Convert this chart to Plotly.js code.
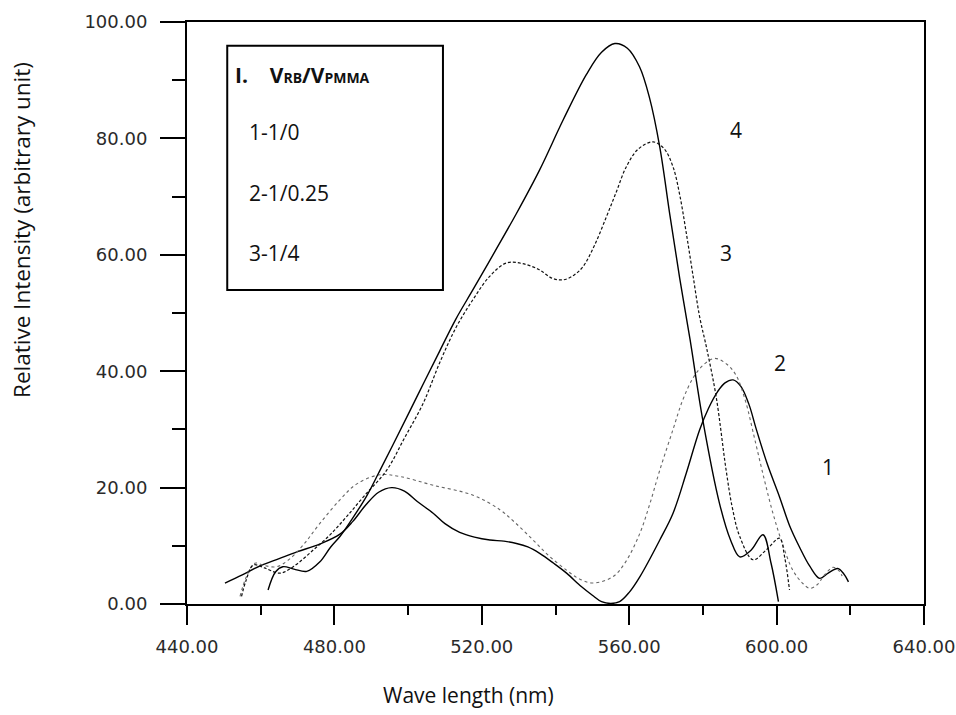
<!DOCTYPE html>
<html>
<head>
<meta charset="utf-8">
<script src="https://cdn.plot.ly/plotly-3.0.1.min.js"></script>
<style>html,body{margin:0;padding:0;background:#fff;}#chart{width:956px;height:715px;}</style>
</head>
<body>
<div id="chart"></div>
<script>
// Curve 1 (solid)
const wl1 = [450.3, 455, 460, 465, 470, 476, 481.5, 485, 488.5, 492, 495.5, 499, 502.5, 506.8, 510, 514, 518, 522.2, 526, 529.4, 532.5, 535.7, 539.5, 543, 547, 550, 552.5, 555, 557.4, 560, 563, 568.3, 571.9, 575.5, 579.1, 581.5, 584, 586, 588.2, 590.3, 592.5, 594.5, 597.5, 600.8, 603.5, 606.2, 609, 611.7, 614, 616.6, 618.2, 619.5];
const int1 = [3.6, 5, 6.6, 7.8, 9, 10.3, 12, 14.2, 17, 19.2, 20, 19.4, 17.6, 15.6, 13.8, 12.3, 11.5, 11, 10.8, 10.4, 9.8, 8.7, 7, 5.3, 3, 1.5, 0.4, 0.1, 0.4, 2, 4.8, 11, 15.6, 22.5, 29.9, 33.6, 36.5, 38, 38.5, 37.4, 34.3, 30, 24, 18.4, 13.5, 9.8, 6.5, 4.4, 5.3, 6.1, 5.2, 3.8];

// Curve 2 (dotted)
const wl2 = [454.4, 456, 458.4, 461, 464.3, 468, 472, 476, 481.5, 486, 492.3, 497.8, 506.8, 517.6, 524.9, 529, 533.9, 538, 543, 546.5, 550.2, 555.6, 559, 562.8, 565.5, 568.3, 571.9, 574.5, 577.3, 580, 583.2, 586.5, 589, 591.5, 594, 596.5, 599, 601.5, 604.4, 607, 609, 611, 613, 615.3, 616.8, 617.8];
const int2 = [1.3, 4.5, 7, 6.6, 6.4, 7.8, 10.5, 13.8, 17.9, 20.6, 22.2, 21.9, 20.4, 18.7, 16.2, 14, 11, 8.4, 5.8, 4.3, 3.6, 4.7, 7.2, 12, 17, 23, 30, 35, 38.8, 41, 42.2, 41.2, 39.3, 35, 28.5, 21.8, 15.6, 10.5, 5.8, 3.6, 2.7, 3.3, 5, 6.3, 5.8, 4.8];

// Curve 3 (dashed)
const wl3 = [454.8, 456, 458, 461, 465.2, 469, 474.3, 479, 483.3, 488, 494.2, 499, 504.1, 508.6, 513, 517.6, 522, 526.7, 531, 535.7, 539, 542.1, 545, 547.5, 550.5, 553.8, 556.5, 559.2, 562.5, 566.5, 569.5, 571.9, 573.8, 575.5, 577.3, 579.1, 581, 583.6, 586.3, 588, 590, 593.6, 597.2, 600.8, 602.2, 603.5];
const int3 = [1.3, 4, 6.7, 6.2, 5.3, 6.5, 9.3, 12, 15, 18.5, 23, 28.5, 34.5, 41.5, 47.5, 52.3, 56.2, 58.6, 58.5, 57.4, 56, 55.7, 56.5, 58, 61.5, 66.5, 70.8, 75.1, 78.2, 79.4, 78.2, 75.1, 70, 63.7, 56.5, 49.4, 44, 35.6, 23, 16.5, 11.6, 7.6, 9.3, 11.3, 8, 2.4];

// Curve 4 (solid)
const wl4 = [462, 464, 466, 469, 472.5, 476, 479, 481.5, 485, 488.7, 492, 496, 502.3, 508.6, 513, 517.6, 523.5, 529.4, 535.7, 542.1, 548.4, 552.5, 556.1, 559.5, 562.8, 565.5, 568.3, 571, 573.7, 576.5, 580, 584.5, 587.5, 590, 593, 596.3, 598.5, 600.5];
const int4 = [2.4, 5.5, 6.4, 6.0, 5.6, 7.2, 9.8, 11.6, 14.8, 18.5, 22.5, 27.5, 35.5, 43.5, 49, 54, 60.5, 67.1, 74.6, 83.2, 91, 94.8, 96.3, 95.5, 92.3, 87, 78.5, 67, 56, 45.5, 31.5, 17.3, 11, 8.1, 9.2, 11.9, 7, 0.4];

const xTicks = [440, 480, 520, 560, 600, 640];
const yTicks = [0, 20, 40, 60, 80, 100];
const legendHeader = '<b>I.    V<span style="font-size:14px">RB</span>/V<span style="font-size:14px">PMMA</span></b>';
const seriesLabels = ['1-1/0', '2-1/0.25', '3-1/4'];
const curveTags = ['1', '2', '3', '4'];
const xTitle = 'Wave length (nm)';
const yTitle = 'Relative Intensity (arbitrary unit)';

const textFont = {family: 'Open Sans, sans-serif', size: 21, color: '#111'};

const traces = [
  {x: wl1, y: int1, mode: 'lines', line: {color: '#000', width: 1.4, shape: 'spline', smoothing: 1}, name: curveTags[0]},
  {x: wl2, y: int2, mode: 'lines', line: {color: '#666', width: 1.1, dash: 'dot', shape: 'spline', smoothing: 1}, name: curveTags[1]},
  {x: wl3, y: int3, mode: 'lines', line: {color: '#111', width: 1.2, dash: '3px,2px', shape: 'spline', smoothing: 1}, name: curveTags[2]},
  {x: wl4, y: int4, mode: 'lines', line: {color: '#000', width: 1.4, shape: 'spline', smoothing: 1}, name: curveTags[3]}
];

const tickFont = {family: 'DejaVu Sans, sans-serif', size: 18, color: '#2a2a2a'};

const layout = {
  width: 956, height: 715,
  margin: {l: 187, r: 32, t: 22, b: 111, autoexpand: false},
  paper_bgcolor: '#fff', plot_bgcolor: '#fff',
  showlegend: false,
  xaxis: {
    range: [440, 640], tickmode: 'array', tickvals: xTicks, tickformat: '.2f',
    ticks: 'outside', ticklen: 19, tickwidth: 2, tickcolor: '#000',
    showline: true, linewidth: 2, linecolor: '#000', mirror: true,
    showgrid: false, zeroline: false, tickfont: tickFont, ticklabelstandoff: 6,
    ticklabeloverflow: 'allow',
    minor: {dtick: 20, tick0: 440, ticks: 'outside', ticklen: 9, tickwidth: 2, tickcolor: '#000', showgrid: false}
  },
  yaxis: {
    range: [0, 100], tickmode: 'array', tickvals: yTicks, tickformat: '.2f',
    ticks: 'outside', ticklen: 25, tickwidth: 2, tickcolor: '#000',
    showline: true, linewidth: 2, linecolor: '#000', mirror: true,
    showgrid: false, zeroline: false, tickfont: tickFont, ticklabelstandoff: 9,
    ticklabeloverflow: 'allow',
    minor: {dtick: 10, tick0: 0, ticks: 'outside', ticklen: 13, tickwidth: 2, tickcolor: '#000', showgrid: false}
  },
  shapes: [
    {type: 'rect', xref: 'paper', yref: 'paper', x0: 0.0546, x1: 0.3473, y0: 0.5395, y1: 0.9593,
     line: {color: '#000', width: 2}, fillcolor: 'rgba(0,0,0,0)'}
  ],
  annotations: [
    {xref: 'paper', yref: 'paper', x: 0.0619, y: 0.909, xanchor: 'left', yanchor: 'middle', showarrow: false, text: legendHeader, font: textFont},
    {xref: 'paper', yref: 'paper', x: 0.0809, y: 0.8115, xanchor: 'left', yanchor: 'middle', showarrow: false, text: seriesLabels[0], font: textFont},
    {xref: 'paper', yref: 'paper', x: 0.0809, y: 0.7067, xanchor: 'left', yanchor: 'middle', showarrow: false, text: seriesLabels[1], font: textFont},
    {xref: 'paper', yref: 'paper', x: 0.0809, y: 0.6026, xanchor: 'left', yanchor: 'middle', showarrow: false, text: seriesLabels[2], font: textFont},
    {xref: 'x', yref: 'y', x: 589.1, y: 81.4, showarrow: false, text: curveTags[3], font: textFont},
    {xref: 'x', yref: 'y', x: 586.4, y: 60.3, showarrow: false, text: curveTags[2], font: textFont},
    {xref: 'x', yref: 'y', x: 600.8, y: 41.4, showarrow: false, text: curveTags[1], font: textFont},
    {xref: 'x', yref: 'y', x: 614.0, y: 23.5, showarrow: false, text: curveTags[0], font: textFont},
    {xref: 'paper', yref: 'paper', x: (468 - 187) / 737, y: -(695 - 604) / 582, xanchor: 'center', yanchor: 'middle', showarrow: false, text: xTitle, font: textFont},
    {xref: 'paper', yref: 'paper', x: (22 - 187) / 737, y: (604 - 230) / 582, xanchor: 'center', yanchor: 'middle', textangle: -90, showarrow: false, text: yTitle, font: {family: 'Open Sans, sans-serif', size: 22.5, color: '#111'}}
  ]
};

Plotly.newPlot('chart', traces, layout, {displayModeBar: false, staticPlot: true});
</script>
</body>
</html>
